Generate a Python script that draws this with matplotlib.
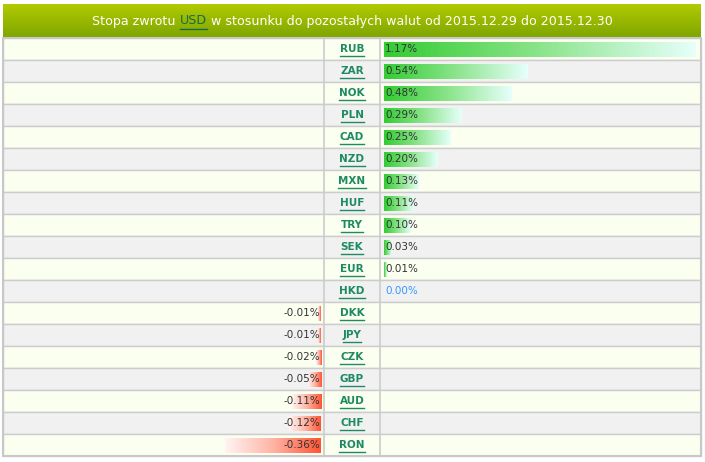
import matplotlib
matplotlib.use("Agg")
import matplotlib.pyplot as plt
import numpy as np
from matplotlib.colors import LinearSegmentedColormap
from matplotlib.patches import Rectangle

# Stopa zwrotu USD vs other currencies, 2015.12.29 -> 2015.12.30 (in %)
currencies = ["RUB", "ZAR", "NOK", "PLN", "CAD", "NZD", "MXN", "HUF", "TRY", "SEK",
              "EUR", "HKD", "DKK", "JPY", "CZK", "GBP", "AUD", "CHF", "RON"]
returns = [1.17, 0.54, 0.48, 0.29, 0.25, 0.20, 0.13, 0.11, 0.10, 0.03,
           0.01, 0.00, -0.01, -0.01, -0.02, -0.05, -0.11, -0.12, -0.36]
title_parts = ["Stopa zwrotu ", "USD", " w stosunku do pozostałych walut od 2015.12.29 do 2015.12.30"]

W, H = 705, 462
TOP, ROW = 38, 22
n = len(currencies)
BOTTOM = TOP + ROW * n

green_cmap = LinearSegmentedColormap.from_list("g", ["#33cc33", "#8be48b", "#e6fffb"])
red_cmap = LinearSegmentedColormap.from_list("r", ["#fff4f2", "#ffb4a6", "#ff5533"])
code_color = "#1e8a62"
text_color = "#333333"

fig = plt.figure(figsize=(W / 100, H / 100), dpi=100)
fig.patch.set_facecolor("white")

bg = fig.add_axes([0, 0, 1, 1])
bg.set_xlim(0, W)
bg.set_ylim(H, 0)
bg.axis("off")

# header with vertical gradient
head = np.linspace(0, 1, 64).reshape(-1, 1)
head_cmap = LinearSegmentedColormap.from_list("h", ["#b1ca00", "#7ea500"])
bg.imshow(head, extent=[3, 701, 38, 4], cmap=head_cmap, aspect="auto", zorder=1)

# table rows
for i in range(n):
    y0 = TOP + ROW * i
    fc = "#fafff0" if i % 2 == 0 else "#f1f1f1"
    bg.add_patch(Rectangle((3, y0), 698, ROW, facecolor=fc, edgecolor="#cccccc", lw=1, zorder=1))
for x in (324, 380):
    bg.plot([x, x], [TOP, BOTTOM], color="#cccccc", lw=1.2, zorder=2)
bg.add_patch(Rectangle((3, TOP), 698, ROW * n, facecolor="none", edgecolor="#c8c8c8", lw=1.5, zorder=3))

vmax = max(abs(v) for v in returns)
fy0 = 1 - BOTTOM / H
fh = (BOTTOM - TOP) / H
axr = fig.add_axes([384 / W, fy0, 312 / W, fh])
axl = fig.add_axes([9 / W, fy0, 312 / W, fh])
for a in (axr, axl):
    a.patch.set_alpha(0)
    a.axis("off")

grad = np.linspace(0, 1, 128).reshape(1, -1)
for i, v in enumerate(returns):
    yt, yb = i + 4 / ROW, i + 19 / ROW
    if v > 0:
        axr.imshow(grad, extent=[0, v, yb, yt], cmap=green_cmap, aspect="auto", zorder=2)
        axr.annotate(f"{v:.2f}%", (0, i + 0.5), xytext=(1, 0), textcoords="offset pixels",
                     ha="left", va="center", fontsize=7.5, color=text_color, zorder=3)
    elif v < 0:
        axl.imshow(grad, extent=[v, 0, yb, yt], cmap=red_cmap, aspect="auto", zorder=2)
        axl.annotate(f"{v:.2f}%", (0, i + 0.5), xytext=(-1, 0), textcoords="offset pixels",
                     ha="right", va="center", fontsize=7.5, color=text_color, zorder=3)
    else:
        axr.annotate(f"{v:.2f}%", (0, i + 0.5), xytext=(1, 0), textcoords="offset pixels",
                     ha="left", va="center", fontsize=7.5, color="#3399ff", zorder=3)
axr.set_xlim(0, vmax)
axl.set_xlim(-vmax, 0)
axr.set_ylim(n, 0)
axl.set_ylim(n, 0)

code_texts = []
for i, c in enumerate(currencies):
    t = bg.text(352, TOP + ROW * i + ROW / 2 + 0.5, c, ha="center", va="center",
                fontsize=7.5, fontweight="bold", color=code_color, zorder=4)
    code_texts.append(t)

# title pieces
cols = ["white", "#176b4e", "white"]
pieces = []
for p, col in zip(title_parts, cols):
    pieces.append(bg.text(0, 21, p, ha="left", va="center", fontsize=9.1, color=col, zorder=4))

fig.canvas.draw()
r = fig.canvas.get_renderer()
inv = bg.transData.inverted()
widths = [t.get_window_extent(r).width for t in pieces]
x_px = W / 2 - sum(widths) / 2
for t, w in zip(pieces, widths):
    t.set_x(inv.transform((x_px, 0))[0])
    x_px += w


def underline(t, color):
    bb = t.get_window_extent(r)
    (x0, y0), (x1, y1) = inv.transform([(bb.x0, bb.y0), (bb.x1, bb.y1)])
    bg.plot([x0, x1], [y0 + 1, y0 + 1], color=color, lw=1, zorder=4)


fig.canvas.draw()
underline(pieces[1], "#176b4e")
for t in code_texts:
    underline(t, code_color)

fig.savefig("out.png", dpi=100)
